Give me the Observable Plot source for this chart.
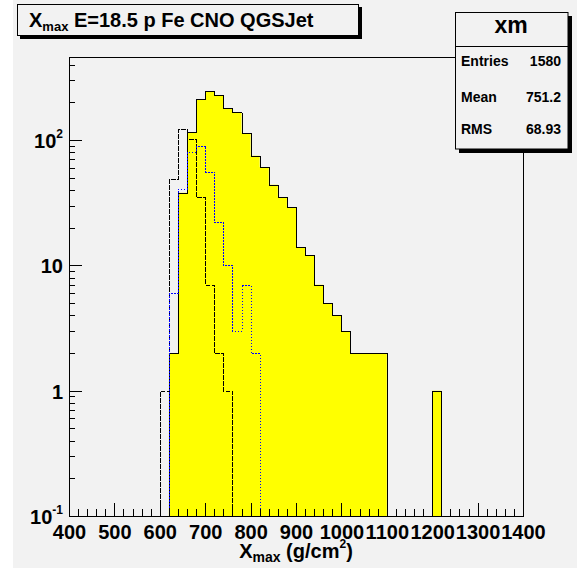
<!DOCTYPE html>
<html>
<head>
<meta charset="utf-8">
<script src="https://cdn.jsdelivr.net/npm/d3@7"></script>
<script src="https://cdn.jsdelivr.net/npm/@observablehq/plot@0.6"></script>
<style>
  body { margin: 0; background: #ffffff; }
  #chart svg { display: block; }
</style>
</head>
<body>
<div id="chart"></div>
<script>
// ---- data (bin edges in g/cm^2, counts per 20 g/cm^2 bin) ----
const binEdges = [600,620,640,660,680,700,720,740,760,780,800,820,840,860,880,900,920,940,960,980,1000,1020,1040,1060,1080,1100,1120,1140,1160,1180,1200,1220];
const pCounts   = [0,2,38,115,213,245,229,180,166,114,75,61,44,35,29,14,12,7,5,4,3,2,2,2,2,0,0,0,0,0,1];
const feCounts  = [1,49,122,102,35,7,2,1,0,0,0,0,0,0,0,0,0,0,0,0,0,0,0,0,0,0,0,0,0,0,0];
const cnoCounts = [0,6,41,81,90,56,22,10,3,7,2,0,0,0,0,0,0,0,0,0,0,0,0,0,0,0,0,0,0,0,0];

const xMajorTicks = [400,500,600,700,800,900,1000,1100,1200,1300,1400];
const yMajorTicks = [0.1,1,10,100];
const yTickBase   = ["10","1","10","10"];
const yTickExp    = ["-1","","","2"];

const titleText = " E=18.5 p Fe CNO QGSJet";
const statsName = "xm";
const statsLabels = ["Entries","Mean","RMS"];
const statsValues = ["1580","751.2","68.93"];

// ---- helpers ----
const yMin = 0.1, yMax = 460;
const FONT = "'Liberation Sans', Arial, Helvetica, sans-serif";

function stepPoints(counts) {
  const n = counts.length;
  const pts = [{x: binEdges[0], y: yMin}];
  counts.forEach((c, i) => pts.push({x: binEdges[i], y: Math.max(c, yMin)}));
  pts.push({x: binEdges[n], y: Math.max(counts[n - 1], yMin)});
  pts.push({x: binEdges[n], y: yMin});
  return pts;
}

const xMinorTicks = d3.range(400, 1401, 20).filter(v => v % 100 !== 0);
const yMinorTicks = [];
[0.1, 1, 10, 100].forEach(d => { for (let k = 2; k <= 9; k++) { const v = +(d * k).toPrecision(3); if (v <= yMax) yMinorTicks.push(v); } });

const chart = Plot.plot({
  width: 581, height: 573,
  marginLeft: 69, marginRight: 58, marginTop: 57, marginBottom: 57,
  x: {domain: [400, 1400]},
  y: {type: "log", domain: [yMin, yMax]},
  style: {fontFamily: FONT, background: "transparent", overflow: "visible"},
  marks: [
    Plot.areaY(stepPoints(pCounts), {x: "x", y1: yMin, y2: "y", curve: "step-after", fill: "#ffff00"}),
    Plot.line(stepPoints(pCounts), {x: "x", y: "y", curve: "step-after", stroke: "#000", strokeWidth: 1, shapeRendering: "crispEdges"}),
    Plot.line(stepPoints(feCounts), {x: "x", y: "y", curve: "step-after", stroke: "#000", strokeWidth: 1, strokeDasharray: "4,2", shapeRendering: "crispEdges"}),
    Plot.line(stepPoints(cnoCounts), {x: "x", y: "y", curve: "step-after", stroke: "#0000ff", strokeWidth: 1, strokeDasharray: "1,2", shapeRendering: "crispEdges"}),
    Plot.frame({stroke: "#000", shapeRendering: "crispEdges"}),
    Plot.axisX(xMajorTicks, {anchor: "bottom", tickSize: -13, tickFormat: () => "", label: null, shapeRendering: "crispEdges"}),
    Plot.axisX(xMinorTicks, {anchor: "bottom", tickSize: -7, tickFormat: () => "", label: null, shapeRendering: "crispEdges"}),
    Plot.axisY(yMajorTicks, {anchor: "left", tickSize: -13, tickFormat: () => "", label: null, shapeRendering: "crispEdges"}),
    Plot.axisY(yMinorTicks, {anchor: "left", tickSize: -6, tickFormat: () => "", label: null, shapeRendering: "crispEdges"}),
    Plot.text(xMajorTicks, {x: d => d, frameAnchor: "bottom", lineAnchor: "top", dy: 8, text: d => String(d), fontSize: 20, fontWeight: "bold", fill: "#000"})
  ]
});

document.getElementById("chart").appendChild(chart);

const svg = d3.select(chart);
const yScale = chart.scale("y");
// canvas background
svg.insert("rect", ":first-child").attr("x", 13).attr("y", 0).attr("width", 564).attr("height", 568).attr("fill", "#f2f2f2");

function boldText(sel, x, y, size, anchor) {
  return sel.append("text").attr("x", x).attr("y", y).attr("text-anchor", anchor || "start")
    .attr("font-family", FONT).attr("font-weight", "bold").attr("font-size", size).attr("fill", "#000");
}

// y tick labels (with exponents)
yMajorTicks.forEach((v, i) => {
  const t = boldText(svg, 63, yScale.apply(v) + 8, 20, "end");
  t.append("tspan").text(yTickBase[i]);
  if (yTickExp[i]) t.append("tspan").attr("font-size", 12).attr("dy", -10).text(yTickExp[i]);
});

// axis title
const at = boldText(svg, 296, 558, 20, "middle");
at.append("tspan").text("X");
at.append("tspan").attr("font-size", 14).attr("dy", 4).text("max");
at.append("tspan").attr("dy", -4).text(" (g/cm");
at.append("tspan").attr("font-size", 12).attr("dy", -10).text("2");
at.append("tspan").attr("dy", 10).text(")");

// title box
const tb = svg.append("g");
tb.append("rect").attr("x", 20).attr("y", 7).attr("width", 342).attr("height", 32).attr("fill", "#000");
tb.append("rect").attr("x", 17.5).attr("y", 4.5).attr("width", 341).attr("height", 31).attr("fill", "#f2f2f2").attr("stroke", "#000");
const tt = boldText(tb, 29, 27, 20, "start");
tt.append("tspan").text("X");
tt.append("tspan").attr("font-size", 13).attr("dy", 4).text("max");
tt.append("tspan").attr("dy", -4).text(titleText);

// stats box
const sb = svg.append("g");
sb.append("rect").attr("x", 459).attr("y", 16).attr("width", 113).attr("height", 137).attr("fill", "#000");
sb.append("rect").attr("x", 455.5).attr("y", 12.5).attr("width", 112.5).attr("height", 136.5).attr("fill", "#f2f2f2").attr("stroke", "#000");
sb.append("line").attr("x1", 455.5).attr("x2", 568).attr("y1", 46.5).attr("y2", 46.5).attr("stroke", "#000");
boldText(sb, 511, 33, 23, "middle").text(statsName);
const rowY = [66, 102, 134];
statsLabels.forEach((l, i) => {
  boldText(sb, 461, rowY[i], 14, "start").text(l);
  boldText(sb, 561, rowY[i], 14, "end").text(statsValues[i]);
});
</script>
</body>
</html>
